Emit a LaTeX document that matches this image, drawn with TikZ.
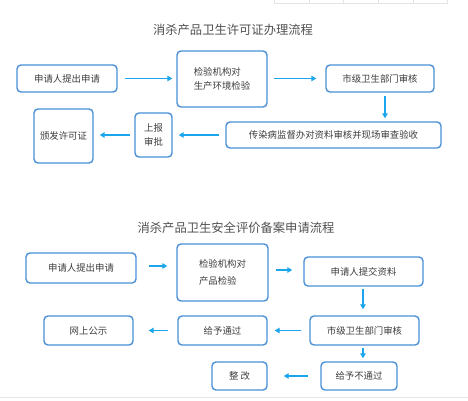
\documentclass[tikz,border=0pt]{standalone}
\usepackage{fontspec}
\setmainfont{Noto Sans CJK SC}
\usepackage{tikz}
\usetikzlibrary{arrows.meta}
\definecolor{boxblue}{HTML}{4A90D6}
\definecolor{arrowblue}{HTML}{1BA5EA}
\definecolor{txtgray}{HTML}{3C3C3C}
\definecolor{gridgray}{HTML}{E2E6E6}

\begin{document}
\begin{tikzpicture}[x=1pt, y=-1pt,
  flowbox/.style={draw=boxblue, line width=1.4pt, rounded corners=4pt, text=txtgray,
    font=\fontsize{9.4}{14}\selectfont, inner sep=0pt, align=center},
  flowarrow/.style={draw=arrowblue, line width=1.4pt, -{Triangle[length=5pt,width=5.5pt]}},
  heading/.style={text=txtgray!90, font=\fontsize{12.3}{15}\selectfont}]
 \useasboundingbox (0,0) rectangle (468,400);
 % leftover table and rule
 \draw[gridgray, line width=0.8pt] (274,0) -- (274,3) -- (447,3) -- (447,0);
 \foreach \gx in {309,343,378,413} \draw[gridgray, line width=0.8pt] (\gx,0) -- (\gx,3);
 \draw[gridgray, line width=0.6pt] (0,397) -- (468,397);

 % licence procedure
 \node[heading] (title1) at (233,30) {消杀产品卫生许可证办理流程};
 \node[flowbox, minimum width=100pt, minimum height=27pt] (apply1) at (67,78.5) {申请人提出申请};
 \node[flowbox, minimum width=90pt, minimum height=56pt, align=left] (test1) at (222,79) {检验机构对\\生产环境检验};
 \node[flowbox, minimum width=108pt, minimum height=27pt] (city1) at (380,78.5) {市级卫生部门审核};
 \node[flowbox, minimum width=215pt, minimum height=26pt] (check1) at (333.5,135) {传染病监督办对资料审核并现场审查验收};
 \node[flowbox, minimum width=37pt, minimum height=44pt] (report1) at (153.5,135) {上报\\审批};
 \node[flowbox, minimum width=59pt, minimum height=54pt] (issue1) at (63.5,136) {颁发许可证};

 \draw[flowarrow, shorten <=7pt, shorten >=4pt] (apply1.east) -- (apply1.east -| test1.west);
 \draw[flowarrow, shorten <=6pt, shorten >=9pt] (test1.east |- city1.west) -- (city1.west);
 \draw[flowarrow, shorten <=3pt, shorten >=3pt] ([xshift=5pt]city1.south) -- ([xshift=5pt]city1.south |- check1.north);
 \draw[flowarrow, shorten <=6pt, shorten >=6pt] (check1.west |- report1.east) -- (report1.east);
 \draw[flowarrow, shorten <=4pt, shorten >=6pt] (report1.west) -- (report1.west -| issue1.east);

 % safety evaluation filing
 \node[heading] (title2) at (236,228) {消杀产品卫生安全评价备案申请流程};
 \node[flowbox, minimum width=110pt, minimum height=30pt] (apply2) at (81,268) {申请人提出申请};
 \node[flowbox, minimum width=91pt, minimum height=57pt, align=left, font=\fontsize{9.4}{17}\selectfont] (test2) at (222.5,272.5) {检验机构对\\产品检验};
 \node[flowbox, minimum width=119pt, minimum height=29pt] (submit2) at (363.5,271.5) {申请人提交资料};
 \node[flowbox, minimum width=109pt, minimum height=29pt] (city2) at (364.5,330.5) {市级卫生部门审核};
 \node[flowbox, minimum width=89pt, minimum height=29pt] (pass2) at (222.5,330.5) {给予通过};
 \node[flowbox, minimum width=89pt, minimum height=29pt] (web2) at (88.5,330.5) {网上公示};
 \node[flowbox, minimum width=76pt, minimum height=28pt] (fail2) at (359,376) {给予不通过};
 \node[flowbox, minimum width=55pt, minimum height=28pt] (fix2) at (239.5,376) {整~改};

 \draw[flowarrow, shorten <=12pt, shorten >=9pt] ([yshift=2pt]apply2.east) -- ([yshift=2pt]apply2.east -| test2.west);
 \draw[flowarrow, shorten <=7pt, shorten >=11pt] ([yshift=1.5pt]test2.east |- submit2.west) -- ([yshift=1.5pt]submit2.west);
 \draw[flowarrow, shorten <=3pt, shorten >=6pt] (363,286) coordinate (s2) -- (s2 |- city2.north);
 \draw[flowarrow, shorten <=8pt, shorten >=7pt] (city2.west) -- (city2.west -| pass2.east);
 \draw[flowarrow, shorten <=9pt, shorten >=15pt] (pass2.west) -- (pass2.west -| web2.east);
 \draw[flowarrow, shorten <=2pt, shorten >=3pt] (s2 |- city2.south) -- (s2 |- fail2.north);
 \draw[flowarrow, shorten <=12pt, shorten >=16pt] (fail2.west) -- (fail2.west -| fix2.east);
\end{tikzpicture}
\end{document}
